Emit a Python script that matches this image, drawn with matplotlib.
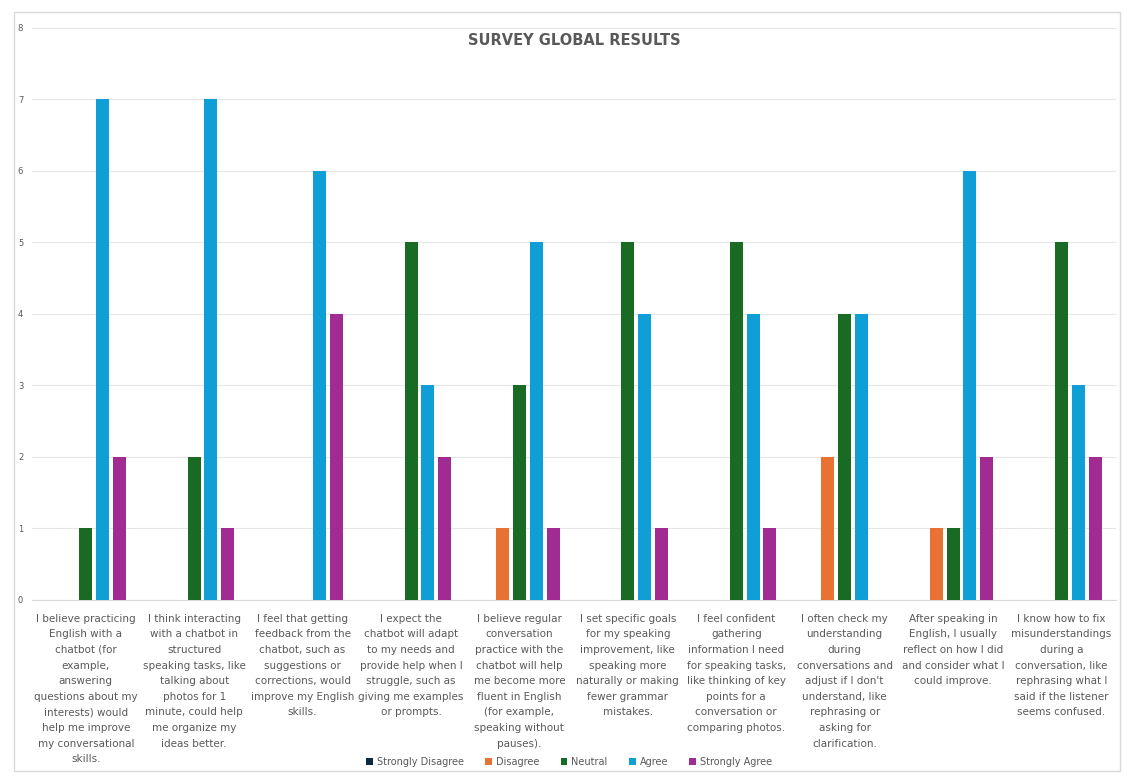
import matplotlib.pyplot as plt
import numpy as np
from matplotlib.patches import Rectangle

# survey statements (wrapped as in the original chart)
questions = [
    "I believe practicing\nEnglish with a\nchatbot (for\nexample,\nanswering\nquestions about my\ninterests) would\nhelp me improve\nmy conversational\nskills.",
    "I think interacting\nwith a chatbot in\nstructured\nspeaking tasks, like\ntalking about\nphotos for 1\nminute, could help\nme organize my\nideas better.",
    "I feel that getting\nfeedback from the\nchatbot, such as\nsuggestions or\ncorrections, would\nimprove my English\nskills.",
    "I expect the\nchatbot will adapt\nto my needs and\nprovide help when I\nstruggle, such as\ngiving me examples\nor prompts.",
    "I believe regular\nconversation\npractice with the\nchatbot will help\nme become more\nfluent in English\n(for example,\nspeaking without\npauses).",
    "I set specific goals\nfor my speaking\nimprovement, like\nspeaking more\nnaturally or making\nfewer grammar\nmistakes.",
    "I feel confident\ngathering\ninformation I need\nfor speaking tasks,\nlike thinking of key\npoints for a\nconversation or\ncomparing photos.",
    "I often check my\nunderstanding\nduring\nconversations and\nadjust if I don't\nunderstand, like\nrephrasing or\nasking for\nclarification.",
    "After speaking in\nEnglish, I usually\nreflect on how I did\nand consider what I\ncould improve.",
    "I know how to fix\nmisunderstandings\nduring a\nconversation, like\nrephrasing what I\nsaid if the listener\nseems confused.",
]

series = ["Strongly Disagree", "Disagree", "Neutral", "Agree", "Strongly Agree"]
strongly_disagree = [0, 0, 0, 0, 0, 0, 0, 0, 0, 0]
disagree = [0, 0, 0, 0, 1, 0, 0, 2, 1, 0]
neutral = [1, 2, 0, 5, 3, 5, 5, 4, 1, 5]
agree = [7, 7, 6, 3, 5, 4, 4, 4, 6, 3]
strongly_agree = [2, 1, 4, 2, 1, 1, 1, 0, 2, 2]

colors = ["#0E2841", "#E97132", "#196B24", "#0F9ED5", "#A02B93"]

fig = plt.figure(figsize=(11.27, 7.76), dpi=100)
fig.patches.append(Rectangle((0.012, 0.006), 0.982, 0.978, transform=fig.transFigure,
                             fill=False, edgecolor="#D9D9D9", linewidth=1))
ax = fig.add_axes([0.028, 0.227, 0.962, 0.737])

x = np.arange(len(questions))
slot = 0.155
width = 0.12
values = [strongly_disagree, disagree, neutral, agree, strongly_agree]
for i, (name, vals) in enumerate(zip(series, values)):
    ax.bar(x + (i - 2) * slot, vals, width, color=colors[i], label=name, zorder=3)

ax.set_ylim(0, 8)
ax.set_xlim(-0.5, len(questions) - 0.5)
ax.set_yticks(range(0, 9))
ax.tick_params(axis="y", labelsize=6, colors="#595959", length=0, pad=6)
ax.set_xticks(x)
ax.set_xticklabels(questions, fontsize=7.5, color="#595959", linespacing=1.7)
ax.tick_params(axis="x", length=0, pad=10)
ax.grid(axis="y", color="#E6E6E6", linewidth=0.8, zorder=0)
for s in ["top", "right", "left"]:
    ax.spines[s].set_visible(False)
ax.spines["bottom"].set_color("#D9D9D9")

fig.text(0.51, 0.948, "SURVEY GLOBAL RESULTS", ha="center", va="center",
         fontsize=10.5, fontweight="bold", color="#595959")

fig.legend(loc="lower center", bbox_to_anchor=(0.505, 0.0), ncol=5, frameon=False,
           fontsize=7, handlelength=0.7, handleheight=0.7, columnspacing=2.2,
           handletextpad=0.4, labelcolor="#595959")

fig.savefig("out.png", dpi=100, facecolor="white")
